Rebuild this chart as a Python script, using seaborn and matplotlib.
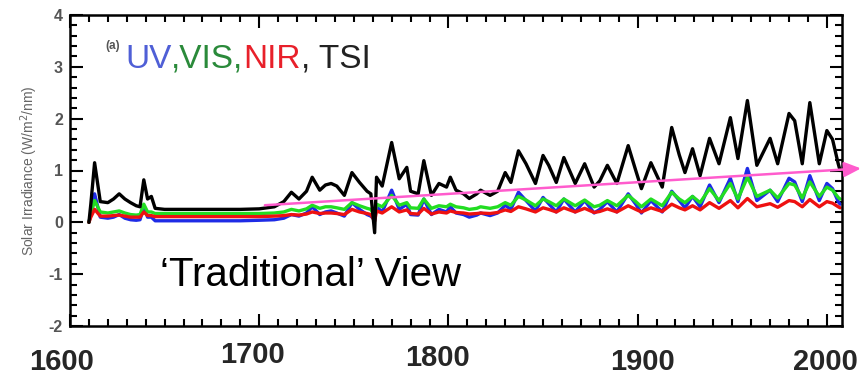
import matplotlib
matplotlib.use("Agg")
import matplotlib.pyplot as plt
import pandas as pd
import seaborn as sns
from matplotlib.ticker import MultipleLocator

# Data (years, irradiance anomalies in W/m2/nm)
years = [1610, 1611, 1613, 1616, 1620, 1623, 1626, 1629, 1632, 1635, 1637, 1639,
         1641, 1643, 1645, 1650, 1670, 1690, 1700, 1708, 1713, 1717, 1721, 1725,
         1728, 1732, 1735, 1738, 1741, 1745, 1749, 1753, 1757, 1759, 1761, 1762,
         1765, 1770, 1774, 1778, 1780, 1784, 1787, 1791, 1795, 1799, 1801, 1804,
         1808, 1811, 1815, 1817, 1822, 1826, 1830, 1833, 1837, 1841, 1846, 1850,
         1853, 1857, 1861, 1867, 1872, 1877, 1880, 1884, 1889, 1895, 1899, 1902,
         1907, 1913, 1918, 1922, 1925, 1929, 1933, 1938, 1943, 1949, 1953, 1958,
         1963, 1970, 1974, 1980, 1983, 1987, 1991, 1996, 2000, 2003, 2006, 2007]

tsi = [0.0, 0.35, 1.15, 0.4, 0.38, 0.45, 0.55, 0.45, 0.38, 0.32, 0.3, 0.82,
       0.45, 0.5, 0.27, 0.25, 0.25, 0.25, 0.26, 0.3, 0.4, 0.58, 0.45, 0.6,
       0.87, 0.62, 0.72, 0.75, 0.7, 0.52, 0.96, 0.77, 0.6, 0.55, -0.2, 0.87,
       0.7, 1.54, 0.84, 1.06, 0.6, 0.55, 1.19, 0.52, 0.75, 0.68, 0.87, 0.62,
       0.55, 0.46, 0.55, 0.62, 0.52, 0.6, 0.96, 0.77, 1.38, 1.13, 0.75, 1.29,
       1.1, 0.77, 1.25, 0.75, 1.13, 0.68, 0.8, 1.1, 0.75, 1.48, 1.0, 0.65,
       1.15, 0.68, 1.83, 1.3, 0.96, 1.42, 0.9, 1.62, 1.13, 2.02, 1.23, 2.35,
       1.1, 1.62, 1.13, 2.1, 1.96, 1.13, 2.31, 1.13, 1.77, 1.6, 1.13, 1.0]

uv = [0.0, 0.15, 0.55, 0.1, 0.08, 0.1, 0.15, 0.08, 0.05, 0.04, 0.05, 0.3,
      0.1, 0.1, 0.03, 0.03, 0.03, 0.03, 0.04, 0.05, 0.08, 0.15, 0.12, 0.18,
      0.3, 0.15, 0.2, 0.22, 0.18, 0.12, 0.38, 0.25, 0.15, 0.12, 0.05, 0.3,
      0.2, 0.62, 0.25, 0.35, 0.15, 0.14, 0.45, 0.15, 0.25, 0.2, 0.3, 0.18,
      0.15, 0.1, 0.14, 0.18, 0.13, 0.18, 0.33, 0.25, 0.58, 0.42, 0.22, 0.48,
      0.36, 0.2, 0.45, 0.2, 0.42, 0.18, 0.25, 0.4, 0.2, 0.55, 0.35, 0.18,
      0.42, 0.2, 0.6, 0.42, 0.28, 0.5, 0.3, 0.72, 0.38, 0.85, 0.4, 1.04,
      0.42, 0.62, 0.4, 0.85, 0.78, 0.4, 0.9, 0.42, 0.75, 0.65, 0.4, 0.35]

vis = [0.0, 0.15, 0.42, 0.2, 0.18, 0.2, 0.22, 0.18, 0.15, 0.14, 0.15, 0.35,
       0.2, 0.2, 0.17, 0.17, 0.17, 0.17, 0.17, 0.18, 0.2, 0.25, 0.22, 0.26,
       0.33, 0.27, 0.3, 0.3, 0.28, 0.25, 0.38, 0.32, 0.27, 0.25, 0.12, 0.35,
       0.3, 0.52, 0.33, 0.38, 0.28, 0.27, 0.45, 0.27, 0.32, 0.3, 0.35, 0.3,
       0.28, 0.25, 0.27, 0.3, 0.27, 0.3, 0.38, 0.33, 0.5, 0.43, 0.32, 0.45,
       0.4, 0.32, 0.45, 0.32, 0.43, 0.3, 0.33, 0.42, 0.32, 0.52, 0.4, 0.3,
       0.45, 0.32, 0.58, 0.45, 0.38, 0.5, 0.38, 0.65, 0.42, 0.75, 0.45, 0.87,
       0.5, 0.62, 0.47, 0.75, 0.72, 0.47, 0.78, 0.5, 0.68, 0.62, 0.48, 0.45]

nir = [0.0, 0.1, 0.25, 0.12, 0.12, 0.13, 0.14, 0.12, 0.1, 0.1, 0.1, 0.2,
       0.13, 0.13, 0.11, 0.11, 0.11, 0.11, 0.11, 0.12, 0.13, 0.15, 0.14, 0.16,
       0.2, 0.17, 0.18, 0.18, 0.17, 0.15, 0.25, 0.2, 0.17, 0.15, 0.02, 0.22,
       0.18, 0.3, 0.2, 0.24, 0.17, 0.16, 0.27, 0.16, 0.2, 0.18, 0.22, 0.19,
       0.18, 0.16, 0.17, 0.18, 0.17, 0.19, 0.24, 0.21, 0.3, 0.26, 0.2, 0.28,
       0.25, 0.2, 0.28, 0.2, 0.27, 0.19, 0.21, 0.26, 0.2, 0.32, 0.25, 0.2,
       0.28, 0.21, 0.35, 0.28, 0.24, 0.32, 0.24, 0.38, 0.27, 0.42, 0.28, 0.46,
       0.3, 0.36, 0.29, 0.42, 0.4, 0.3, 0.44, 0.3, 0.4, 0.37, 0.3, 0.28]

# Trend arrow (start and end in data units)
trend_start = (1703, 0.33)
trend_end = (2018, 1.04)

year_labels = ["1600", "1700", "1800", "1900", "2000"]
label_x = [62, 252, 437, 642, 825]   # pixel centres in the 866 px wide figure
label_y = [362, 355, 358, 362, 362]

df = pd.DataFrame({"year": years, "UV": uv, "VIS": vis, "NIR": nir, "TSI": tsi})
df_long = df.melt(id_vars="year", var_name="band", value_name="irr")

sns.set_style("white")
plt.rcParams["font.family"] = ["Liberation Sans", "DejaVu Sans"]
plt.rcParams["axes.unicode_minus"] = False

fig = plt.figure(figsize=(8.66, 3.75), dpi=100)
ax = fig.add_axes([70 / 866, 1 - 326 / 375, 772 / 866, 311 / 375])

palette = {"UV": "#1e2be6", "VIS": "#22dd22", "NIR": "#ee1111", "TSI": "black"}
sns.lineplot(data=df_long, x="year", y="irr", hue="band", palette=palette,
             hue_order=["UV", "VIS", "NIR", "TSI"], linewidth=2.4, ax=ax,
             legend=False, solid_joinstyle="round")

ax.annotate("", xy=trend_end, xytext=trend_start, annotation_clip=False,
            arrowprops=dict(arrowstyle="-|>,head_length=1.0,head_width=0.45",
                            color="#ff5ccd", lw=1.8, shrinkA=0, shrinkB=0))

ax.set_xlim(1600, 2008)
ax.set_ylim(-2, 4)
ax.xaxis.set_major_locator(MultipleLocator(100))
ax.xaxis.set_minor_locator(MultipleLocator(10))
ax.yaxis.set_major_locator(MultipleLocator(1))
ax.yaxis.set_minor_locator(MultipleLocator(0.2))
ax.tick_params(which="both", direction="in", top=True, right=True,
               bottom=True, left=True, width=1.5, color="black",
               labelbottom=False)
ax.tick_params(which="major", length=9)
ax.tick_params(which="minor", length=5)
ax.tick_params(axis="y", labelsize=11.5, labelcolor="#555555", pad=5)
for lab in ax.get_yticklabels():
    lab.set_fontweight("bold")
for sp in ax.spines.values():
    sp.set_linewidth(1.8)
    sp.set_color("black")

ax.set_xlabel("")
ax.set_ylabel("Solar Irradiance (W/m$^2$/nm)", fontsize=10, color="#666666",
              labelpad=6)

# Panel label and coloured title
ax.text(0.046, 0.89, "(a)", transform=ax.transAxes, fontsize=8.5,
        fontweight="bold", color="#555555")
parts = [("UV", "#4f5fd6"), (",VIS,", "#2a8a3a"), ("NIR", "#e8202a"),
         (", TSI", "#222222")]
x0 = 125 / 866
for txt, col in parts:
    t = fig.text(x0, 1 - 68 / 375, txt, color=col, fontsize=24)
    fig.canvas.draw()
    bb = t.get_window_extent()
    x0 += bb.width / fig.bbox.width

fig.text(160 / 866, 1 - 286 / 375, "\u2018Traditional\u2019 View", fontsize=29,
         color="black")

for lab, px, py in zip(year_labels, label_x, label_y):
    fig.text(px / 866, 1 - py / 375, lab, fontsize=21, fontweight="bold",
             ha="center", va="center")

fig.savefig("out.png", dpi=100)
